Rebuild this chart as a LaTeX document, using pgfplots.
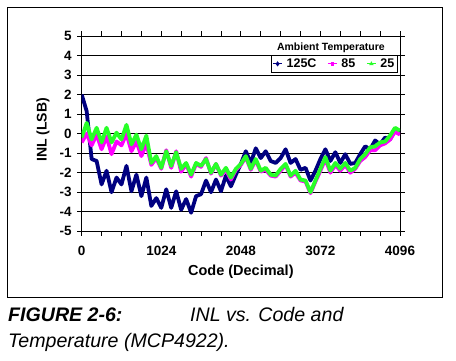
\documentclass[border=0pt]{standalone}
\usepackage{pgfplots}
\pgfplotsset{compat=1.18}
\usepackage{pgfplotstable}
\usepackage{fontspec}
\setmainfont{Liberation Sans}
\definecolor{navy}{RGB}{0,0,128}
\definecolor{mag}{RGB}{255,0,255}
\definecolor{grn}{RGB}{40,255,40}
\pgfplotstableread{
x b m g
0 2.0 -0.45 -0.2
64 1.15 0.0 0.55
128 -1.3 -0.6 -0.3
192 -1.4 -0.05 0.3
256 -2.6 -0.8 -0.45
320 -1.9 -0.15 0.3
384 -3.0 -1.05 -0.45
448 -2.25 -0.4 0.05
512 -2.6 -0.6 -0.3
576 -1.65 0.0 0.45
640 -2.95 -0.9 -0.55
704 -2.1 -0.4 -0.05
768 -3.2 -1.15 -0.8
832 -2.25 -0.5 -0.1
896 -3.7 -1.6 -1.5
960 -3.3 -1.25 -1.15
1024 -3.8 -1.8 -1.75
1088 -2.85 -0.85 -0.9
1152 -3.8 -1.75 -1.65
1216 -2.95 -0.9 -0.95
1280 -3.9 -1.95 -1.8
1344 -3.35 -1.55 -1.5
1408 -4.05 -2.2 -2.1
1472 -3.2 -1.55 -1.5
1536 -3.1 -1.7 -1.65
1600 -2.4 -1.25 -1.3
1664 -3.0 -2.05 -2.0
1728 -2.35 -1.55 -1.55
1792 -2.95 -2.15 -2.1
1856 -2.15 -1.85 -1.75
1920 -2.7 -2.35 -2.25
1984 -2.1 -1.85 -1.8
2048 -1.55 -1.6 -1.55
2112 -0.9 -1.2 -1.15
2176 -1.5 -1.85 -1.8
2240 -0.75 -1.35 -1.3
2304 -1.25 -1.95 -1.9
2368 -0.9 -1.85 -1.75
2432 -1.4 -2.15 -2.1
2496 -1.5 -2.2 -2.15
2560 -1.25 -1.9 -1.8
2624 -0.8 -1.6 -1.55
2688 -1.5 -2.2 -2.15
2752 -1.3 -2.0 -1.9
2816 -1.85 -2.4 -2.35
2880 -1.75 -2.45 -2.4
2944 -2.4 -3.05 -3.0
3008 -1.9 -2.45 -2.4
3072 -1.3 -1.9 -1.8
3136 -0.8 -1.3 -1.2
3200 -1.4 -2.0 -1.9
3264 -0.95 -1.6 -1.5
3328 -1.5 -1.9 -1.8
3392 -1.05 -1.6 -1.5
3456 -1.55 -2.0 -1.9
3520 -1.5 -1.8 -1.75
3584 -1.05 -1.4 -1.3
3648 -0.65 -1.2 -1.05
3712 -0.8 -0.85 -0.7
3776 -0.35 -0.85 -0.65
3840 -0.55 -0.6 -0.45
3904 -0.2 -0.5 -0.4
3968 -0.3 -0.3 -0.1
4032 0.2 0.1 0.3
4096 0.05 -0.05 0.15
}\inl
\begin{document}
\begin{tikzpicture}
\path[use as bounding box] (-81.7pt,-129.7pt) rectangle (374.3pt,231.3pt);
\draw[line width=1pt] (-73.7pt,-66.4pt) rectangle (360.3pt,223.3pt);
\begin{axis}[at={(0pt,0pt)}, anchor=south west, scale only axis,
  width=318.3pt, height=195.3pt,
  xmin=0, xmax=4096, ymin=-5, ymax=5,
  xtick={0,256,...,4096},
  xticklabels={0,,,,1024,,,,2048,,,,3072,,,,4096},
  ytick={-5,-4,...,5},
  yticklabels={-5,-4,-3,-2,-1,0,1,2,3,4,5},
  tick align=outside, major tick length=4.5pt,
  tick style={black, line width=0.8pt},
  ymajorgrids, grid style={black, line width=0.6pt},
  axis line style={black, line width=0.8pt},
  tick label style={font=\fontsize{13.5}{16}\selectfont\bfseries},
  xticklabel style={yshift=-7pt},
  yticklabel style={xshift=-2pt},
  /pgf/number format/assume math mode=true,
  xlabel={Code (Decimal)}, ylabel={INL (LSB)},
  xlabel style={at={(axis description cs:0.5,-0.207)}, anchor=center, font=\fontsize{14.5}{17}\selectfont\bfseries},
  ylabel style={at={(axis description cs:-0.1216,0.519)}, anchor=center, font=\fontsize{14}{17}\selectfont\bfseries},
  legend style={at={(axis description cs:0.994,0.903)}, anchor=north east,
    draw=black, line width=0.6pt, fill=white,
    font=\fontsize{12.5}{14}\selectfont\bfseries, inner sep=1.5pt,
    /tikz/every odd column/.append style={column sep=2pt},
    /tikz/every even column/.append style={column sep=9pt}},
  legend columns=3,
  legend image code/.code={\draw[mark repeat=2, mark phase=2, #1] plot coordinates {(0pt,0pt) (4.5pt,0pt) (9pt,0pt)};},
]
\addplot[navy, line width=3.8pt, line join=round, forget plot] table[x=x, y=b] {\inl};
\addplot[mag, line width=3.8pt, line join=round, forget plot] table[x=x, y=m] {\inl};
\addplot[grn, line width=3.8pt, line join=round, forget plot] table[x=x, y=g] {\inl};
\addlegendimage{navy, line width=1pt, mark=diamond*, mark size=1.8pt}
\addlegendentry{125C}
\addlegendimage{mag, line width=1pt, mark=square*, mark size=1.3pt}
\addlegendentry{85}
\addlegendimage{grn, line width=1pt, mark=triangle*, mark size=1.6pt}
\addlegendentry{25}
\node[font=\fontsize{10.5}{13}\selectfont\bfseries, fill=white, inner sep=1pt] at (rel axis cs:0.783,0.939) {Ambient Temperature};
\end{axis}
\node[anchor=base west, inner sep=0pt, font=\fontsize{19.6}{24}\selectfont\bfseries\itshape] at (-73.7pt,-90.4pt) {FIGURE 2-6:};
\node[anchor=base west, inner sep=0pt, font=\fontsize{19.6}{24}\selectfont\itshape] at (108.3pt,-90.4pt) {INL vs. Code and};
\node[anchor=base west, inner sep=0pt, font=\fontsize{19.6}{24}\selectfont\itshape] at (-73.7pt,-116.7pt) {Temperature (MCP4922).};
\end{tikzpicture}
\end{document}
